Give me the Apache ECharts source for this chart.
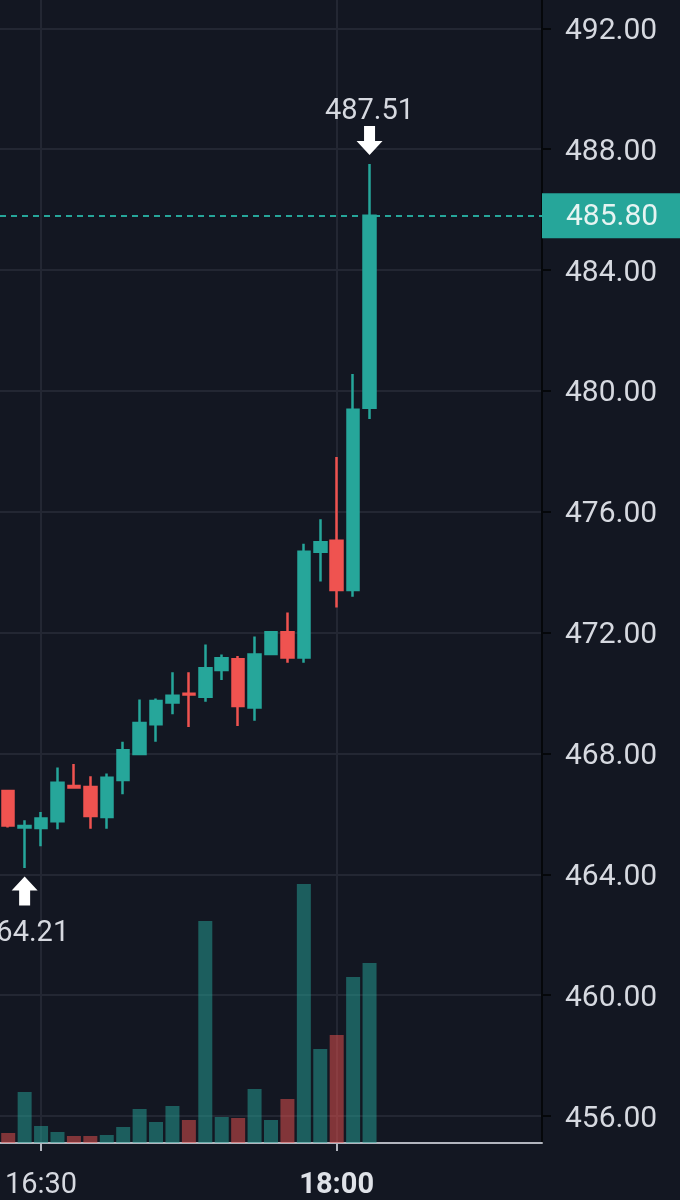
<!DOCTYPE html>
<html>
<head>
<meta charset="utf-8">
<style>
  html, body { margin: 0; padding: 0; background: #131722; }
  #chart { width: 680px; height: 1200px; }
</style>
<script src="https://cdn.jsdelivr.net/npm/echarts@6/dist/echarts.min.js"></script>
</head>
<body>
<div id="chart"></div>
<script>
// 5-minute categories shown on the time axis
const categories = ['16:20','16:25','16:30','16:35','16:40','16:45','16:50','16:55',
  '17:00','17:05','17:10','17:15','17:20','17:25','17:30','17:35','17:40','17:45',
  '17:50','17:55','18:00','18:05','18:10','18:15','18:20','18:25','18:30','18:35',
  '18:40','18:45','18:50','18:55','19:00'];

// candle values, one entry per 5-minute bar
const opens  = [466.76,465.55,465.53,465.76,466.92,466.89,465.90,467.12,467.98,468.97,469.69,469.98,469.88,470.76,471.12,469.52,471.29,472.01,471.18,474.68,475.04,473.41,479.44];
const closes = [465.62,465.60,465.85,467.03,466.87,465.93,467.20,468.11,469.01,469.74,469.91,469.95,470.82,471.15,469.57,471.28,472.01,471.18,474.68,474.99,473.41,479.38,485.80];
const lows   = [465.55,464.21,464.93,465.49,466.84,465.51,465.51,466.65,467.94,468.39,469.30,468.88,469.71,470.43,468.91,469.08,471.25,471.00,471.00,473.69,472.83,473.19,479.07];
const highs  = [466.78,465.79,466.06,467.54,467.65,467.25,467.34,468.39,469.79,469.82,470.69,470.69,471.61,471.28,471.23,471.87,472.02,472.67,474.94,475.75,477.81,480.56,487.51];

// traded volume per bar
const volumes = [1000,5100,1700,1100,700,700,800,1600,3400,2100,3700,2300,22200,2600,2500,5400,2300,4400,25900,9400,10800,16600,18000];

// labelled values
const lastPrice = 485.80;
const highMark = { time: '18:10', value: 487.51 };
const lowMark  = { time: '16:25', value: 464.21 };
const shownTimes = ['16:30', '18:00'];
const boldTimes = ['18:00'];

const UP = '#26a69a', DOWN = '#ef5350';
const GRID = '#232733';
const TEXT = '#d6d9e0';
const FONT = 'Roboto, "Noto Sans", sans-serif';

const candleData = opens.map((o, i) => [o, closes[i], lows[i], highs[i]]);
const volumeData = volumes.map((v, i) => ({
  value: v,
  itemStyle: { color: closes[i] >= opens[i] ? 'rgba(38,166,154,0.5)' : 'rgba(239,83,80,0.5)' }
}));

const showFn = (idx, val) => shownTimes.indexOf(val) >= 0;

const chart = echarts.init(document.getElementById('chart'));
chart.setOption({
  animation: false,
  backgroundColor: '#131722',
  grid: [
    { left: 0, right: 138, top: -92.5, bottom: -36.9, containLabel: false, outerBoundsMode: 'none' },
    { left: 0, right: 138, top: 0, bottom: 57, containLabel: false, outerBoundsMode: 'none' }
  ],
  xAxis: [
    { type: 'category', gridIndex: 0, data: categories, boundaryGap: true, show: false },
    {
      type: 'category', gridIndex: 1, data: categories, boundaryGap: true,
      axisLine: { show: true, lineStyle: { color: '#b2b5be', width: 2 } },
      axisTick: { show: true, interval: showFn, alignWithLabel: true, length: 8, lineStyle: { color: '#b2b5be', width: 2 } },
      axisLabel: {
        interval: showFn, color: TEXT, fontSize: 29, fontFamily: FONT, margin: 28,
        formatter: v => boldTimes.indexOf(v) >= 0 ? '{b|' + v + '}' : v,
        rich: { b: { fontWeight: 'bold', fontSize: 29, fontFamily: FONT, color: '#dfe2e8' } }
      },
      splitLine: { show: true, interval: showFn, alignWithLabel: true, lineStyle: { color: GRID, width: 2 } }
    }
  ],
  yAxis: [
    {
      type: 'value', gridIndex: 0, position: 'right', min: 452, max: 496, interval: 4,
      axisLine: { show: false },
      axisTick: { show: true, length: 9, lineStyle: { color: '#05070a', width: 2 } },
      axisLabel: {
        color: TEXT, fontSize: 30, fontFamily: FONT, margin: 23,
        formatter: v => '{p|' + v.toFixed(2) + '}',
        rich: { p: { color: TEXT, fontSize: 30, fontFamily: FONT, padding: [6, 0, 0, 0] } }
      },
      splitLine: { show: true, lineStyle: { color: GRID, width: 2 } }
    },
    {
      type: 'value', gridIndex: 1, position: 'right', min: 0, max: 114300,
      axisLine: { show: true, lineStyle: { color: '#05070a', width: 2 } },
      axisTick: { show: false }, axisLabel: { show: false }, splitLine: { show: false }
    }
  ],
  series: [
    {
      type: 'bar', xAxisIndex: 1, yAxisIndex: 1, data: volumeData, barWidth: 14,
      silent: true, z: 1
    },
    {
      type: 'candlestick', xAxisIndex: 0, yAxisIndex: 0, data: candleData,
      barWidth: 12, z: 3,
      itemStyle: { color: UP, color0: DOWN, borderColor: UP, borderColor0: DOWN, borderWidth: 2.5 },
      markLine: {
        silent: true, symbol: 'none',
        lineStyle: { color: UP, type: [6, 5], width: 2 },
        label: {
          show: true, position: 'end', distance: 0,
          formatter: () => '{p|' + lastPrice.toFixed(2) + '}',
          rich: { p: { color: '#e6f4f2', fontSize: 30, fontFamily: FONT, padding: [6, 0, 0, 0], lineHeight: 30 } },
          backgroundColor: UP, padding: [6, 24, 9, 24]
        },
        data: [{ yAxis: lastPrice }]
      },
      markPoint: {
        silent: true,
        itemStyle: { color: '#ffffff' },
        label: { show: true, color: TEXT, fontSize: 29, fontFamily: FONT },
        data: [
          {
            coord: [highMark.time, highMark.value], value: highMark.value.toFixed(2),
            symbol: 'path://M7.5,0 H18.5 V15 H26 L13,29 L0,15 H7.5 Z', symbolSize: [26, 29],
            symbolOffset: [0, -23.5],
            label: { position: 'top', distance: 0, formatter: '{c}' }
          },
          {
            coord: [lowMark.time, lowMark.value], value: lowMark.value.toFixed(2),
            symbol: 'path://M13,0 L26,14 H18.5 V29 H7.5 V14 H0 Z', symbolSize: [26, 29],
            symbolOffset: [0, 23],
            label: { position: 'bottom', distance: 14, formatter: '{c}' }
          }
        ]
      }
    }
  ]
});
</script>
</body>
</html>
